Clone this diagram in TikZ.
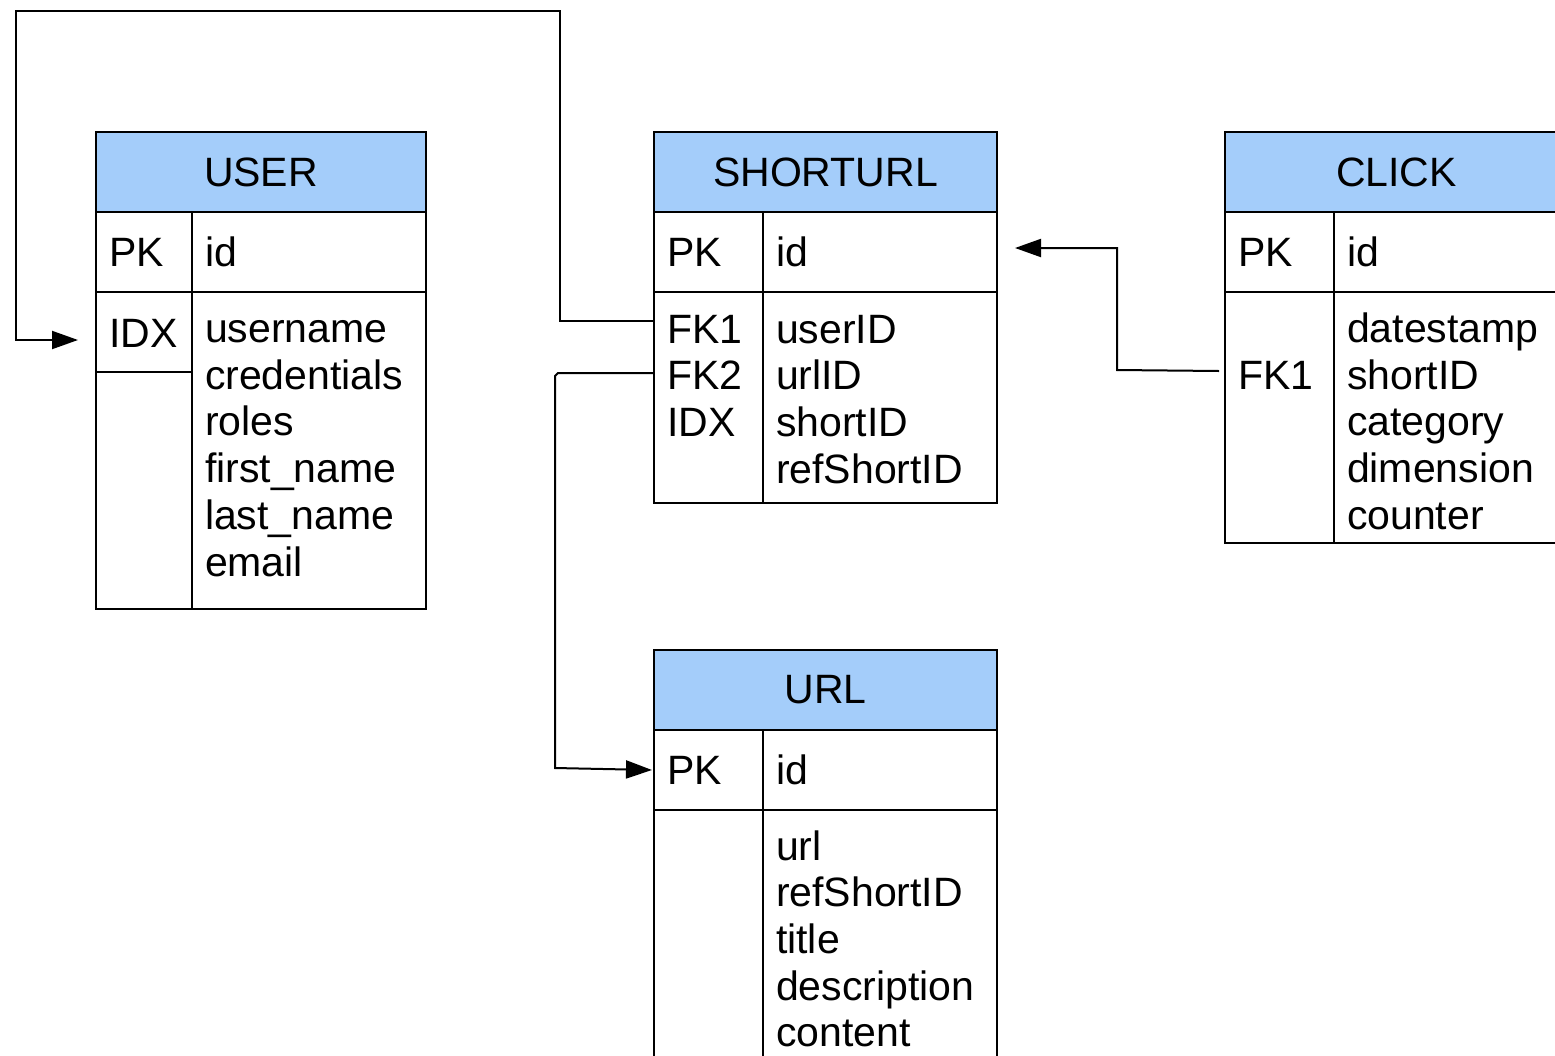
\documentclass[tikz,border=0pt]{standalone}
\usepackage{fontspec}
\setmainfont{Liberation Sans}
\usetikzlibrary{arrows.meta}
\definecolor{hdrblue}{RGB}{164,205,250}
\newcommand\fst{\rule{0pt}{31pt}}
\tikzset{
  tbl/.style={draw=black, line width=2pt, anchor=north west, inner sep=0pt, outer sep=0pt},
  hdr/.style={tbl, fill=hdrblue, minimum height=80pt, font=\fontsize{41pt}{46.7pt}\selectfont},
  cellbox/.style={tbl},
  fld/.style={anchor=north west, inner sep=0pt, outer sep=0pt, align=left, font=\fontsize{41pt}{46.7pt}\selectfont},
  conn/.style={draw=black, line width=2pt, -{Triangle[length=26pt,width=18pt]}},
}
\begin{document}
\begin{tikzpicture}[x=1pt,y=-1pt]
\useasboundingbox (0,0) rectangle (1555,1055);
\fill[white] (0,0) rectangle (1555,1055);
\clip (0,0) rectangle (1555,1055);

% ---------- USER ----------
\node[hdr, minimum width=330pt] (userH) at (96,132) {USER};
\node[cellbox, minimum width=96pt, minimum height=80pt] (userPKk) at (96,212) {};
\node[cellbox, minimum width=234pt, minimum height=80pt] (userPKf) at (192,212) {};
\node[cellbox, minimum width=96pt, minimum height=80pt] (userIDX) at (96,292) {};
\node[cellbox, minimum width=96pt, minimum height=237pt] (userKeys) at (96,372) {};
\node[cellbox, minimum width=234pt, minimum height=317pt] (userFields) at (192,292) {};
\node[fld] (userPKt) at (109,235.5) {\fst PK};
\node[fld] (userIdt) at (205,235.5) {\fst id};
\node[fld] (userIDXt) at (109,316) {\fst IDX};
\node[fld] (userFt) at (205,311.5) {\fst username\\credentials\\roles\\first\_name\\last\_name\\email};

% ---------- SHORTURL ----------
\node[hdr, minimum width=343pt] (suH) at (654,132) {SHORTURL};
\node[cellbox, minimum width=109pt, minimum height=80pt] (suPKk) at (654,212) {};
\node[cellbox, minimum width=234pt, minimum height=80pt] (suPKf) at (763,212) {};
\node[cellbox, minimum width=109pt, minimum height=211pt] (suKeys) at (654,292) {};
\node[cellbox, minimum width=234pt, minimum height=211pt] (suFields) at (763,292) {};
\node[fld] (suPKt) at (667,235.5) {\fst PK};
\node[fld] (suIdt) at (776,235.5) {\fst id};
\node[fld] (suKt) at (667,312) {\fst FK1\\FK2\\IDX};
\node[fld] (suFt) at (776,312) {\fst userID\\urlID\\shortID\\refShortID};

% ---------- CLICK ----------
\node[hdr, minimum width=343pt] (clH) at (1225,132) {CLICK};
\node[cellbox, minimum width=109pt, minimum height=80pt] (clPKk) at (1225,212) {};
\node[cellbox, minimum width=234pt, minimum height=80pt] (clPKf) at (1334,212) {};
\node[cellbox, minimum width=109pt, minimum height=251pt] (clKeys) at (1225,292) {};
\node[cellbox, minimum width=234pt, minimum height=251pt] (clFields) at (1334,292) {};
\node[fld] (clPKt) at (1238,235.5) {\fst PK};
\node[fld] (clIdt) at (1347,235.5) {\fst id};
\node[fld] (clKt) at (1238,358.5) {\fst FK1};
\node[fld] (clFt) at (1347,311.5) {\fst datestamp\\shortID\\category\\dimension\\counter};

% ---------- URL ----------
\node[hdr, minimum width=343pt] (urlH) at (654,650) {URL};
\node[cellbox, minimum width=109pt, minimum height=80pt] (urlPKk) at (654,730) {};
\node[cellbox, minimum width=234pt, minimum height=80pt] (urlPKf) at (763,730) {};
\node[cellbox, minimum width=109pt, minimum height=320pt] (urlKeys) at (654,810) {};
\node[cellbox, minimum width=234pt, minimum height=320pt] (urlFields) at (763,810) {};
\node[fld] (urlPKt) at (667,753.5) {\fst PK};
\node[fld] (urlIdt) at (776,753.5) {\fst id};
\node[fld] (urlFt) at (776,829) {\fst url\\refShortID\\title\\description\\content};

% ---------- connector end points ----------
\coordinate (suFK1) at ([yshift=-29pt]suKeys.north west);
\coordinate (suFK2) at ([yshift=-81pt]suKeys.north west);
\coordinate (userIn) at ([xshift=-18pt,yshift=-48pt]userIDX.north west);
\coordinate (urlIn) at ([xshift=-2pt,yshift=-40pt]urlPKk.north west);
\coordinate (clFK1) at ([xshift=-6pt,yshift=-79pt]clKeys.north west);
\coordinate (suIn) at ([xshift=18pt,yshift=-36pt]suPKf.north east);

% ---------- connectors ----------
\draw[conn] (suFK1) -- (560,321) -- (560,11) -- (16,11) -- (16,340) -- (userIn);
\draw[conn] (suFK2) -- (558,373) -- (555,376) -- (555,768) -- (urlIn);
\draw[conn] (clFK1) -- (1117,370) -- (1117,248) -- (suIn);
\end{tikzpicture}
\end{document}
